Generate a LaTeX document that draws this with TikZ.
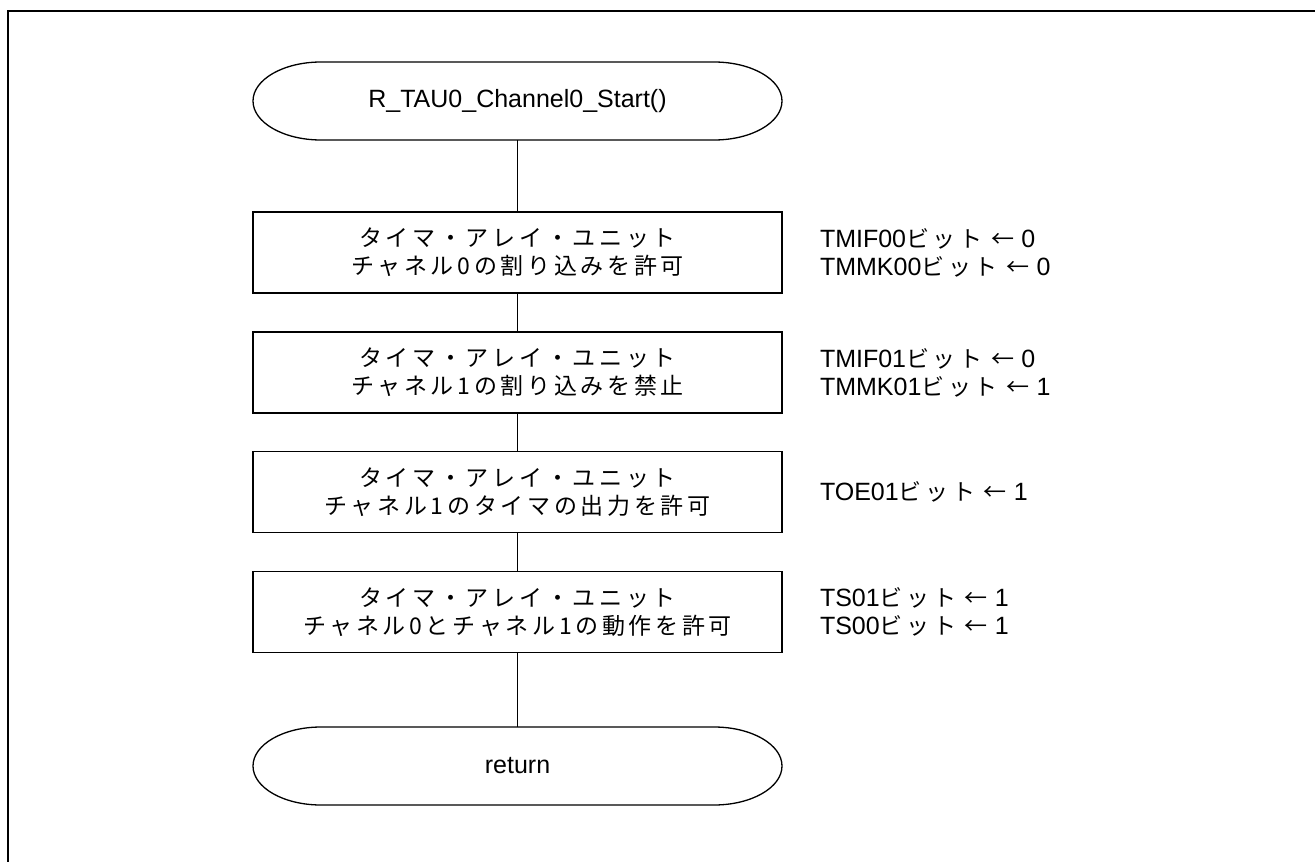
\documentclass[tikz,border=0pt]{standalone}
\usepackage{fontspec}
\setmainfont{Liberation Sans}
\newfontfamily\jpfont[LetterSpace=16]{Noto Sans CJK JP}
\newcommand\jp[1]{{\jpfont\fontsize{23}{28}\selectfont #1}}
% outline of a terminal node: straight top and bottom, elliptic ends
\newcommand\stadium[1]{%
    \draw[line width=1.3pt] ([xshift=68pt]#1.north west) -- ([xshift=-68pt]#1.north east)
        arc[start angle=90, end angle=-90, x radius=68pt, y radius=39pt]
        -- ([xshift=68pt]#1.south west)
        arc[start angle=270, end angle=90, x radius=68pt, y radius=39pt] -- cycle;}

\begin{document}
\begin{tikzpicture}[x=1pt, y=1pt,
        every node/.style={outer sep=0pt},
        term/.style={minimum width=529pt, minimum height=78pt, font=\fontsize{25}{28}\selectfont},
        proc/.style={draw, line width=1.3pt, minimum width=529pt, minimum height=81pt,
            align=center, font=\jpfont\fontsize{23}{28}\selectfont},
        note/.style={anchor=west, align=left, inner sep=0pt, font=\fontsize{25}{28}\selectfont},
        flow/.style={line width=1pt}]
        \useasboundingbox (0,0) rectangle (1315,-862);

        % frame
        \draw[line width=2pt] (8,-862) -- (8,-11) -- (1315,-11);

        % start
        \node[term] (start) at (517.5, -101) {R\_TAU0\_Channel0\_Start()};
        \stadium{start}

        % steps
        \node[proc] (box1) at (517.5, -252.5) {タイマ・アレイ・ユニット\\チャネル0の割り込みを許可};
        \node[proc] (box2) at (517.5, -372.5) {タイマ・アレイ・ユニット\\チャネル1の割り込みを禁止};
        \node[proc] (box3) at (517.5, -492) {タイマ・アレイ・ユニット\\チャネル1のタイマの出力を許可};
        \node[proc] (box4) at (517.5, -612) {タイマ・アレイ・ユニット\\チャネル0とチャネル1の動作を許可};

        % end
        \node[term] (return) at (517.5, -766) {return};
        \stadium{return}

        % register settings
        \node[note] (note1) at (820, -252.5) {TMIF00\jp{ビット ←} 0\\TMMK00\jp{ビット ←} 0};
        \node[note] (note2) at (820, -372.5) {TMIF01\jp{ビット ←} 0\\TMMK01\jp{ビット ←} 1};
        \node[note] (note3) at (820, -492) {TOE01\jp{ビット ←} 1};
        \node[note] (note4) at (820, -612) {TS01\jp{ビット ←} 1\\TS00\jp{ビット ←} 1};

        % flow lines
        \foreach \a/\b in {start/box1, box1/box2, box2/box3, box3/box4, box4/return} {
            \draw[flow] (\a) -- (\b);
        }
    \end{tikzpicture}
\end{document}
